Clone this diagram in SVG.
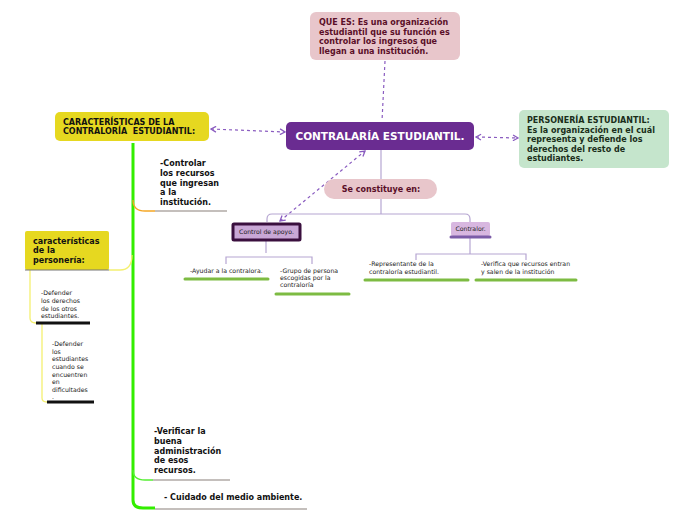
<svg xmlns="http://www.w3.org/2000/svg" width="696" height="520" viewBox="0 0 696 520">
<defs>
<style>
.b{font-family:"DejaVu Sans",Verdana,sans-serif;font-weight:bold;font-size:8px}
.s{font-family:"DejaVu Sans",Verdana,sans-serif;font-size:6.2px;fill:#1a1a1a}
.tree{fill:none;stroke:#b6a6d2;stroke-width:1.2}
.dash{fill:none;stroke:#8a5cc0;stroke-width:1.2;stroke-dasharray:3 3}
.gl{stroke:#7dbb42;stroke-width:3;stroke-linecap:round}
.bl{stroke:#111;stroke-width:3}
.gray{stroke:#b0aaa6;stroke-width:1.5}
</style>
<marker id="ah" viewBox="0 0 10 10" refX="8" refY="5" markerWidth="6" markerHeight="6" orient="auto-start-reverse">
<path d="M1,1 L8,5 L1,9" fill="none" stroke="#8a5cc0" stroke-width="1.8"/>
</marker>
</defs>
<rect width="696" height="520" fill="#fff"/>

<g id="connectors">
<path class="dash" d="M385,61 L382,121"/>
<path class="dash" d="M211,129 L285,132" marker-start="url(#ah)" marker-end="url(#ah)"/>
<path class="dash" d="M476,137 L518,138" marker-start="url(#ah)" marker-end="url(#ah)"/>
<path class="dash" d="M280,221 L365,151" marker-start="url(#ah)" marker-end="url(#ah)"/>
<path class="tree" d="M381,150 V214"/>
<path class="tree" d="M267,222 V219 Q267,214 272,214 H465 Q470,214 470,219 V222"/>
<path class="tree" d="M266,240 V253"/>
<path class="tree" d="M226,264 V257 H312 V264"/>
<path class="tree" d="M470,238 V254"/>
<path class="tree" d="M416,260 V254 H526 V260"/>
<path d="M133,143 V500 Q133,508 143,508 H155" fill="none" stroke="#33ee00" stroke-width="3"/>
<path d="M133,200 Q133,211 145,211 H155" fill="none" stroke="#f5a623" stroke-width="1.3"/>
<line class="gray" x1="155" y1="211" x2="227" y2="211"/>
<path d="M133,470 Q133,480 145,480 H153" fill="none" stroke="#55ee33" stroke-width="1.3"/>
<line class="gray" x1="153" y1="480" x2="230" y2="480"/>
<line class="gray" x1="155" y1="509" x2="307" y2="509"/>
<path d="M132,255 Q132,270 120,270 H109" fill="none" stroke="#f4f070" stroke-width="1.3"/>
<path d="M30,270 V318 Q30,323 36,323" fill="none" stroke="#f4f070" stroke-width="1.3"/>
<path d="M42,323 V398 Q42,402 47,402" fill="none" stroke="#f4f070" stroke-width="1.3"/>
</g>

<g id="que-es">
<rect x="310" y="12" width="150" height="48" rx="6" fill="#e8c6cb"/>
<text class="b" fill="#5a0f28"><tspan x="319" y="25">QUE ES: Es una organización</tspan><tspan x="319" y="34.5">estudiantil que su función es</tspan><tspan x="319" y="44">controlar los ingresos que</tspan><tspan x="319" y="53.5">llegan a una institución.</tspan></text>
</g>

<g id="main">
<rect x="286" y="122" width="188" height="28" rx="5" fill="#6a2c91"/>
<text x="380" y="140" text-anchor="middle" font-family="DejaVu Sans,Verdana,sans-serif" font-weight="bold" font-size="10.5" fill="#fff">CONTRALARÍA ESTUDIANTIL.</text>
</g>

<g id="caracteristicas-contraloria">
<rect x="55" y="112" width="154" height="29" rx="5" fill="#e6d820"/>
<text class="b" fill="#111" xml:space="preserve"><tspan x="63" y="124.5">CARACTERÍSTICAS DE LA</tspan><tspan x="63" y="134">CONTRALORÍA  ESTUDIANTIL:</tspan></text>
</g>

<g id="personeria">
<rect x="519" y="110" width="150" height="58" rx="5" fill="#c5e5cc"/>
<text class="b" fill="#1a2e1a"><tspan x="527" y="123">PERSONERÍA ESTUDIANTIL:</tspan><tspan x="527" y="132.5">Es la organización en el cuál</tspan><tspan x="527" y="142">representa y defiende los</tspan><tspan x="527" y="151.5">derechos del resto de</tspan><tspan x="527" y="161">estudiantes.</tspan></text>
</g>

<g id="se-constituye">
<rect x="324" y="179" width="113" height="20" rx="10" fill="#e8c6cb"/>
<text class="b" x="381" y="192" text-anchor="middle" fill="#5a0f28">Se constituye en:</text>
</g>

<g id="control-apoyo">
<rect x="233" y="224" width="67" height="16" fill="#c9a7d6" stroke="#3a0f3e" stroke-width="3" rx="1"/>
<text class="s" x="266.5" y="234" text-anchor="middle" fill="#3a1a4a">Control de apoyo.</text>
</g>

<g id="ayudar">
<text class="s" x="190" y="273">-Ayudar a la contralora.</text>
<line class="gl" x1="185" y1="279" x2="268" y2="279"/>
</g>

<g id="grupo">
<text class="s"><tspan x="280" y="273">-Grupo de persona</tspan><tspan x="280" y="280">escogidas por la</tspan><tspan x="280" y="287">contraloría</tspan></text>
<line class="gl" x1="276" y1="294" x2="349" y2="294"/>
</g>

<g id="contralor">
<rect x="451" y="222" width="39" height="14" rx="2" fill="#d8b7e0"/>
<text class="s" x="470.5" y="231" text-anchor="middle" fill="#3a1a4a">Contralor.</text>
<line x1="451" y1="237" x2="490" y2="237" stroke="#7c5ca8" stroke-width="3" stroke-linecap="round"/>
</g>

<g id="representante">
<text class="s"><tspan x="369" y="266">-Representante de la</tspan><tspan x="369" y="274">contraloría estudiantil.</tspan></text>
<line class="gl" x1="365" y1="280" x2="468" y2="280"/>
</g>

<g id="verifica">
<text class="s"><tspan x="481" y="266">-Verifica que recursos entran</tspan><tspan x="481" y="273.5">y salen de la institución</tspan></text>
<line class="gl" x1="476" y1="280" x2="576" y2="280"/>
</g>

<g id="controlar">
<text class="b" fill="#111"><tspan x="160" y="166">-Controlar</tspan><tspan x="160" y="176">los recursos</tspan><tspan x="160" y="186">que ingresan</tspan><tspan x="160" y="195">a la</tspan><tspan x="160" y="204.5">institución.</tspan></text>
</g>

<g id="caracteristicas-personeria">
<rect x="25" y="231" width="84" height="39" rx="2" fill="#e6d820"/>
<line x1="25" y1="270" x2="109" y2="270" stroke="#777" stroke-width="1"/>
<text class="b" font-size="8.6" fill="#111"><tspan x="33" y="244">características</tspan><tspan x="33" y="253">de la</tspan><tspan x="33" y="262.5">personería:</tspan></text>
</g>

<g id="defender1">
<text class="s"><tspan x="41" y="295">-Defender</tspan><tspan x="41" y="303">los derechos</tspan><tspan x="41" y="310.5">de los otros</tspan><tspan x="41" y="318">estudiantes.</tspan></text>
<line class="bl" x1="36" y1="323" x2="90" y2="323"/>
</g>

<g id="defender2">
<text class="s"><tspan x="52" y="346">-Defender</tspan><tspan x="52" y="354">los</tspan><tspan x="52" y="361">estudiantes</tspan><tspan x="52" y="369">cuando se</tspan><tspan x="52" y="376.5">encuentren</tspan><tspan x="52" y="384">en</tspan><tspan x="52" y="391.5">dificultades</tspan><tspan x="52" y="399">.</tspan></text>
<line class="bl" x1="47" y1="402" x2="94" y2="402"/>
</g>

<g id="verificar">
<text class="b" fill="#111"><tspan x="154" y="434">-Verificar la</tspan><tspan x="154" y="444">buena</tspan><tspan x="154" y="454">administración</tspan><tspan x="154" y="463">de esos</tspan><tspan x="154" y="472.5">recursos.</tspan></text>
</g>

<g id="cuidado">
<text class="b" x="164" y="500" fill="#111">- Cuidado del medio ambiente.</text>
</g>
</svg>
